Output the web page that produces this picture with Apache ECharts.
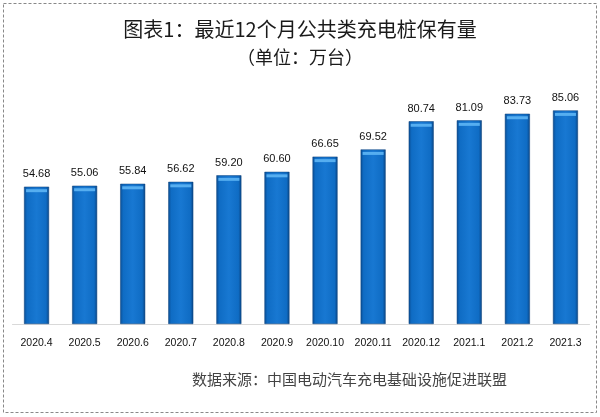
<!DOCTYPE html>
<html><head><meta charset="utf-8">
<script src="https://cdn.jsdelivr.net/npm/echarts@6/dist/echarts.min.js"></script>
<style>html,body{margin:0;padding:0;background:#fff}#c{width:600px;height:417px}</style>
</head><body><div id="c"></div>
<script>
const categories = ['2020.4','2020.5','2020.6','2020.7','2020.8','2020.9','2020.10','2020.11','2020.12','2021.1','2021.2','2021.3'];
const values = [54.68,55.06,55.84,56.62,59.20,60.60,66.65,69.52,80.74,81.09,83.73,85.06];
const titleText = '图表1：最近12个月公共类充电桩保有量';
const subtitleText = '（单位：万台）';
const sourceText = '数据来源：中国电动汽车充电基础设施促进联盟';

const chart = echarts.init(document.getElementById('c'), null, {renderer:'canvas'});
const font = '"Noto Sans CJK SC", "Noto Sans", sans-serif';
chart.setOption({
  animation:false,
  backgroundColor:'#fff',
  title:[
    {text:titleText, left:'center', top:14, textStyle:{fontFamily:font, fontSize:20, fontWeight:'normal', color:'#1a1a1a'}},
    {text:subtitleText, left:'center', top:43, textStyle:{fontFamily:font, fontSize:18, fontWeight:'normal', color:'#1a1a1a'}}
  ],
  graphic:[
    {type:'rect', shape:{x:3.5,y:3.5,width:593,height:409}, style:{fill:'none', stroke:'#888', lineWidth:1, lineDash:[3,2]}},
    {type:'text', right:93, top:372, style:{text:sourceText, font:'15px "Noto Sans CJK SC", serif', fill:'#444', letterSpacing:0.5}}
  ],
  grid:{left:12.5, right:10.5, top:98, bottom:93},
  xAxis:{type:'category', data:categories,
    axisLine:{lineStyle:{color:'#d9d9d9'}}, axisTick:{show:false},
    axisLabel:{interval:0, color:'#111', fontSize:10.5, fontFamily:'"Liberation Sans", Arial, sans-serif', margin:14}},
  yAxis:{type:'value', min:0, max:90, show:false, splitLine:{show:false}},
  series:[
    {type:'bar', data:values, barWidth:25,
      itemStyle:{color:new echarts.graphic.LinearGradient(0,0,1,0,[
        {offset:0,color:'#0a4e94'},{offset:0.12,color:'#0f6cc4'},{offset:0.5,color:'#1878d2'},{offset:0.88,color:'#0f6cc4'},{offset:1,color:'#0a4686'}]),
        borderColor:'#0a3f78', borderWidth:0.5},
      label:{show:true, position:'top', distance:7, color:'#111', fontSize:11, fontFamily:'"Liberation Sans", Arial, sans-serif',
        formatter:p=>p.value.toFixed(2)}},
    {type:'pictorialBar', data:values, symbol:'rect', symbolPosition:'end', symbolSize:[21,3], symbolOffset:[0,2.5],
      itemStyle:{color:'#56aef0'}, z:5, silent:true}
  ]
});
</script></body></html>
